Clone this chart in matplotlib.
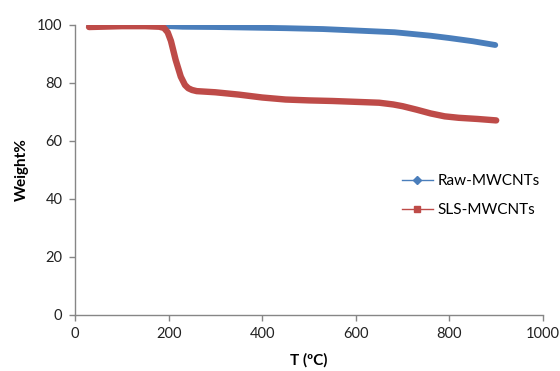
import matplotlib
matplotlib.use("Agg")
import matplotlib.pyplot as plt
from matplotlib.lines import Line2D

# ─── Data ────────────────────────────────────────────────────────────────────
raw_T = [30, 100, 200, 230, 300, 376, 450, 530, 600, 683, 760, 800, 850, 898]
raw_W = [100.0, 99.9, 99.6, 99.4, 99.3, 99.1, 98.9, 98.6, 98.1, 97.5, 96.3, 95.5, 94.4, 93.1]

sls_T = [30, 100, 150, 180, 190, 198, 205, 215, 226, 235, 242, 250, 260, 300,
         350, 400, 450, 500, 550, 600, 650, 680, 700, 730, 760, 790, 820, 860, 900]
sls_W = [99.3, 99.6, 99.6, 99.4, 99.0, 97.5, 94.5, 88.0, 82.2, 79.3, 78.2, 77.6,
         77.2, 76.8, 76.0, 75.0, 74.3, 74.0, 73.8, 73.5, 73.2, 72.6, 72.0, 70.8,
         69.5, 68.5, 68.0, 67.6, 67.1]

labels = ["Raw-MWCNTs", "SLS-MWCNTs"]
x_ticks = [0, 200, 400, 600, 800, 1000]
y_ticks = [0, 20, 40, 60, 80, 100]

BLUE = "#4A7EBB"
RED = "#BE4B48"
GREY = "#868686"

plt.rcParams["font.family"] = ["Lato", "DejaVu Sans"]

fig = plt.figure(figsize=(5.6, 3.71), dpi=100)
ax = fig.add_axes([75 / 560, 56 / 371, 468 / 560, 290 / 371])

ax.plot(raw_T, raw_W, color=BLUE, lw=4.2, solid_capstyle="round", solid_joinstyle="round")
ax.plot(sls_T, sls_W, color=RED, lw=4.6, solid_capstyle="round", solid_joinstyle="round")

ax.set_xlim(0, 1000)
ax.set_ylim(0, 100)
ax.set_xticks(x_ticks)
ax.set_yticks(y_ticks)
ax.tick_params(axis="both", direction="out", length=4, width=1, color=GREY,
               labelsize=10.5, labelcolor="#222222", pad=5)

for side in ("top", "right"):
    ax.spines[side].set_visible(False)
for side in ("left", "bottom"):
    ax.spines[side].set_color(GREY)
    ax.spines[side].set_linewidth(1)

ax.set_xlabel("T (ºC)", fontsize=11, fontweight="bold", labelpad=8)
ax.set_ylabel("Weight%", fontsize=11, fontweight="bold", labelpad=6)

handles = [
    Line2D([], [], color=BLUE, lw=1, marker="D", markersize=4),
    Line2D([], [], color=RED, lw=1, marker="s", markersize=5),
]
fig.legend(handles, labels, loc="upper left", bbox_to_anchor=(396 / 560, 1 - 168 / 371),
           frameon=False, fontsize=11, handlelength=2.0, handletextpad=0.3,
           labelspacing=1.0, borderaxespad=0)

fig.savefig("out.png", dpi=100)
plt.close(fig)
